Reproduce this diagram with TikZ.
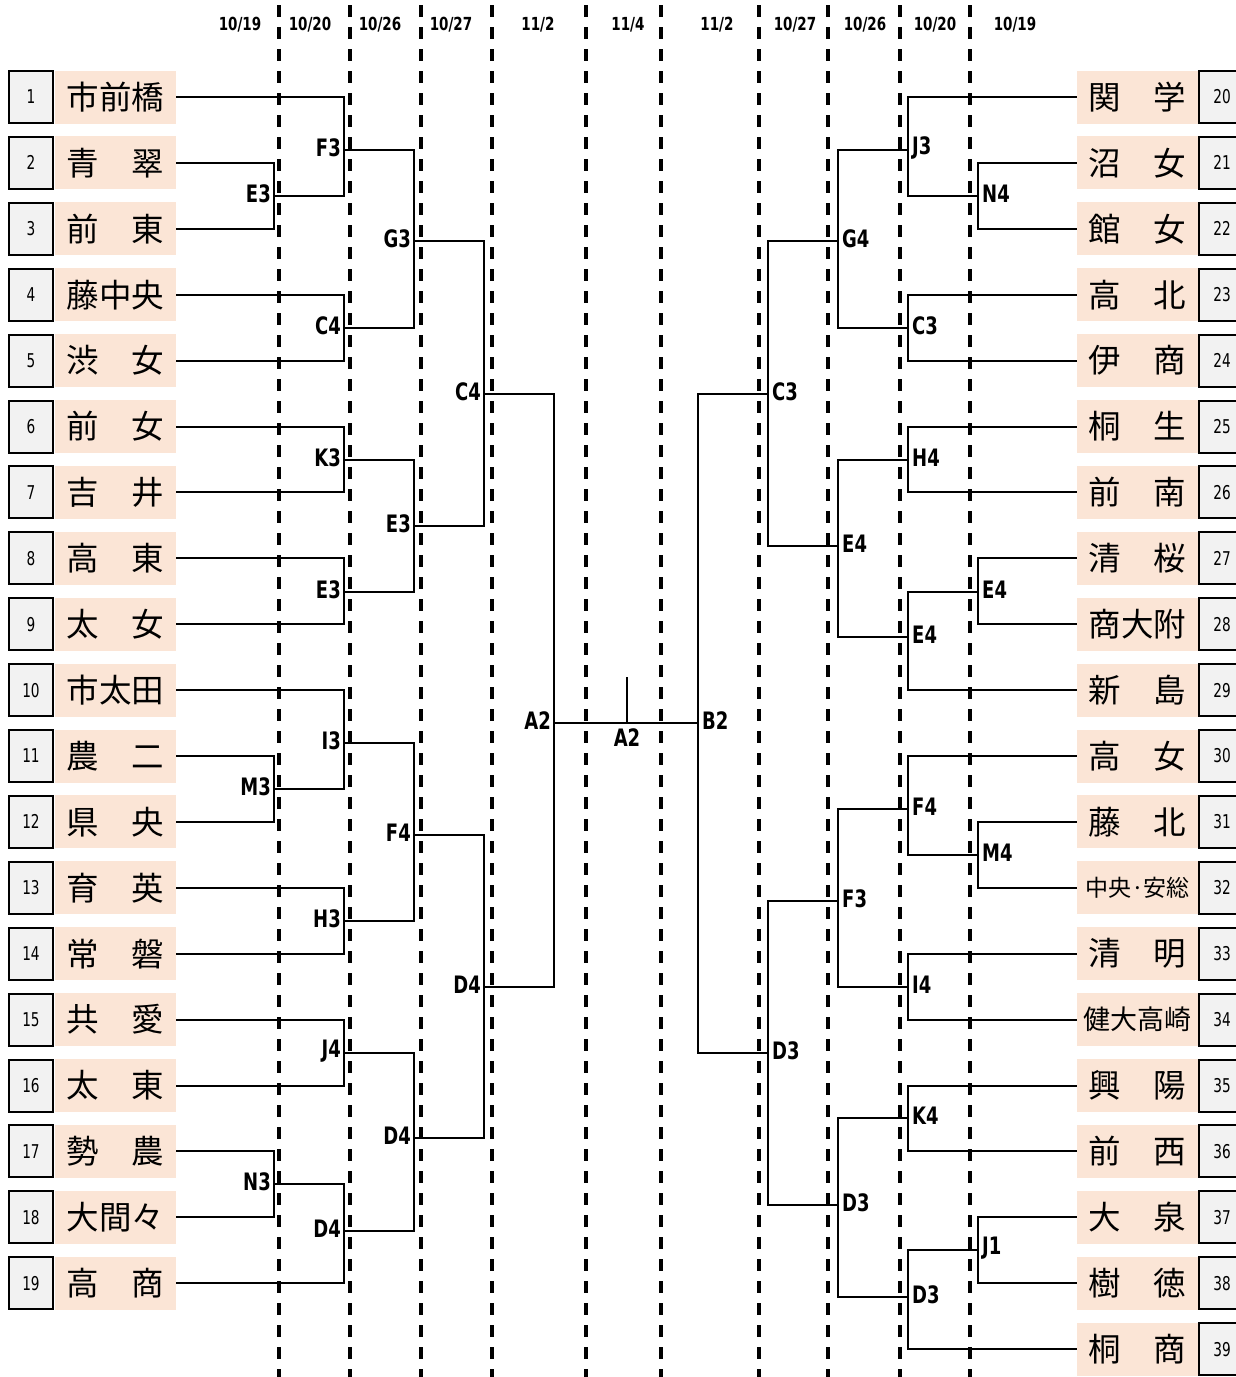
\documentclass[tikz,border=0pt]{standalone}
\usepackage{fontspec}
\setmainfont{Noto Sans CJK JP}
\newfontfamily\labf[FakeStretch=0.75]{DejaVu Sans}
\newfontfamily\numf[FakeStretch=0.72]{DejaVu Sans}
\definecolor{nameorange}{HTML}{FBE5D6}
\definecolor{numgray}{HTML}{F2F2F2}
\tikzset{
  namebox/.style={fill=nameorange, draw=none, minimum width=121pt, minimum height=53pt, inner sep=0pt, font=\fontsize{32.5}{32.5}\selectfont},
  numbox/.style={fill=numgray, draw=black, line width=2pt, minimum width=44pt, minimum height=52pt, inner sep=0pt, font=\numf\fontsize{19}{19}\selectfont},
  br/.style={line width=2pt, black},
  dline/.style={line width=3.5pt, black, dash pattern=on 12pt off 10pt},
  mlabL/.style={anchor=east, font=\labf\bfseries\fontsize{24}{24}\selectfont, inner sep=0pt},
  mlabR/.style={anchor=west, font=\labf\bfseries\fontsize{24}{24}\selectfont, inner sep=0pt},
  datelab/.style={font=\labf\bfseries\fontsize{18}{18}\selectfont, inner sep=0pt}
}
\begin{document}
\begin{tikzpicture}[x=1pt,y=-1pt]
\useasboundingbox (0,0) rectangle (1236,1377);
\clip (0,0) rectangle (1236,1377);

% date labels
\foreach \xx/\dd [count=\k] in {240/10\slash 19,310/10\slash 20,380/10\slash 26,451/10\slash 27,538/11\slash 2,628/11\slash 4,717/11\slash 2,795/10\slash 27,865/10\slash 26,935/10\slash 20,1015/10\slash 19}
  \node[datelab] (date\k) at (\xx,25) {\dd};

% dashed separators
\foreach \xx [count=\k] in {279,350,421,492,586,661,759,828,900,970} {
  \coordinate (dt\k) at (\xx,5);
  \coordinate (db\k) at (\xx,1377);
  \draw[dline] (dt\k) -- (db\k);
}

% left teams
\foreach \i/\nm in {1/市前橋,2/青　翠,3/前　東,4/藤中央,5/渋　女,6/前　女,7/吉　井,8/高　東,9/太　女,10/市太田,11/農　二,12/県　央,13/育　英,14/常　磐,15/共　愛,16/太　東,17/勢　農,18/大間々,19/高　商} {
  \pgfmathsetmacro\yy{97+(\i-1)*65.9}
  \node[namebox] (L\i) at (115.5,\yy) {\nm};
  \node[numbox] (N\i) at (31,\yy) {\i};
}
% right teams
\foreach \i/\nm in {20/関　学,21/沼　女,22/館　女,23/高　北,24/伊　商,25/桐　生,26/前　南,27/清　桜,28/商大附,29/新　島,30/高　女,31/藤　北,32/{\fontsize{23}{23}\selectfont 中央·安総},33/清　明,34/{\fontsize{27}{27}\selectfont 健大高崎},35/興　陽,36/前　西,37/大　泉,38/樹　徳,39/桐　商} {
  \pgfmathsetmacro\yy{97+(\i-20)*65.9}
  \node[namebox] (R\i) at (1137.5,\yy) {\nm};
  \node[numbox, minimum width=46pt] (N\i) at (1222,\yy) {\i};
}

% left match points
\coordinate (lE3a) at (274,196);
\coordinate (lF3)  at (344,150);
\coordinate (lC4a) at (344,328);
\coordinate (lG3)  at (414,241);
\coordinate (lK3)  at (344,460);
\coordinate (lE3b) at (344,592);
\coordinate (lE3c) at (414,526);
\coordinate (lC4b) at (484,394);
\coordinate (lM3)  at (274,789);
\coordinate (lI3)  at (344,743);
\coordinate (lH3)  at (344,921);
\coordinate (lF4)  at (414,835);
\coordinate (lJ4)  at (344,1053);
\coordinate (lN3)  at (274,1184);
\coordinate (lD4a) at (344,1231);
\coordinate (lD4b) at (414,1138);
\coordinate (lD4c) at (484,987);
\coordinate (lA2)  at (554,723);

% right match points
\coordinate (rN4)  at (978,196);
\coordinate (rJ3)  at (908,150);
\coordinate (rC3a) at (908,328);
\coordinate (rG4)  at (838,241);
\coordinate (rH4)  at (908,460);
\coordinate (rE4a) at (978,592);
\coordinate (rE4b) at (908,637);
\coordinate (rE4c) at (838,546);
\coordinate (rC3b) at (768,394);
\coordinate (rM4)  at (978,855);
\coordinate (rF4)  at (908,809);
\coordinate (rI4)  at (908,987);
\coordinate (rF3)  at (838,901);
\coordinate (rK4)  at (908,1118);
\coordinate (rJ1)  at (978,1250);
\coordinate (rD3a) at (908,1297);
\coordinate (rD3b) at (838,1205);
\coordinate (rD3c) at (768,1053);
\coordinate (rB2)  at (698,723);

\coordinate (final) at (627,723);
\coordinate (finaltop) at (627,677);

% left brackets
\foreach \a/\b in {L2.east/lE3a,L3.east/lE3a,L1.east/lF3,lE3a/lF3,L4.east/lC4a,L5.east/lC4a,lF3/lG3,lC4a/lG3,
  L6.east/lK3,L7.east/lK3,L8.east/lE3b,L9.east/lE3b,lK3/lE3c,lE3b/lE3c,lG3/lC4b,lE3c/lC4b,
  L11.east/lM3,L12.east/lM3,L10.east/lI3,lM3/lI3,L13.east/lH3,L14.east/lH3,lI3/lF4,lH3/lF4,
  L15.east/lJ4,L16.east/lJ4,L17.east/lN3,L18.east/lN3,lN3/lD4a,L19.east/lD4a,lJ4/lD4b,lD4a/lD4b,
  lF4/lD4c,lD4b/lD4c,lC4b/lA2,lD4c/lA2}
  \draw[br] (\a) -| (\b);

% right brackets
\foreach \a/\b in {R21.west/rN4,R22.west/rN4,R20.west/rJ3,rN4/rJ3,R23.west/rC3a,R24.west/rC3a,rJ3/rG4,rC3a/rG4,
  R25.west/rH4,R26.west/rH4,R27.west/rE4a,R28.west/rE4a,rE4a/rE4b,R29.west/rE4b,rH4/rE4c,rE4b/rE4c,
  rG4/rC3b,rE4c/rC3b,R31.west/rM4,R32.west/rM4,R30.west/rF4,rM4/rF4,R33.west/rI4,R34.west/rI4,
  rF4/rF3,rI4/rF3,R35.west/rK4,R36.west/rK4,R37.west/rJ1,R38.west/rJ1,rJ1/rD3a,R39.west/rD3a,
  rK4/rD3b,rD3a/rD3b,rF3/rD3c,rD3b/rD3c,rC3b/rB2,rD3c/rB2}
  \draw[br] (\a) -| (\b);

% final
\draw[br] (lA2) -- (final) -- (rB2);
\draw[br] (final) -- (finaltop);

% left labels
\foreach \c/\t in {lE3a/E3,lF3/F3,lC4a/C4,lG3/G3,lK3/K3,lE3b/E3,lE3c/E3,lC4b/C4,lM3/M3,lI3/I3,lH3/H3,lF4/F4,lJ4/J4,lN3/N3,lD4a/D4,lD4b/D4,lD4c/D4,lA2/A2}
  \node[mlabL] (t\c) at ([xshift=-3pt,yshift=2pt]\c) {\t};
% right labels
\foreach \c/\t in {rN4/N4,rJ3/J3,rC3a/C3,rG4/G4,rH4/H4,rE4a/E4,rE4b/E4,rE4c/E4,rC3b/C3,rM4/M4,rF4/F4,rI4/I4,rF3/F3,rK4/K4,rJ1/J1,rD3a/D3,rD3b/D3,rD3c/D3,rB2/B2}
  \node[mlabR] (t\c) at ([xshift=4pt,yshift=2pt]\c) {\t};
\node[font=\labf\bfseries\fontsize{24}{24}\selectfont, inner sep=0pt] (tfinal) at (627,738) {A2};
\end{tikzpicture}
\end{document}
